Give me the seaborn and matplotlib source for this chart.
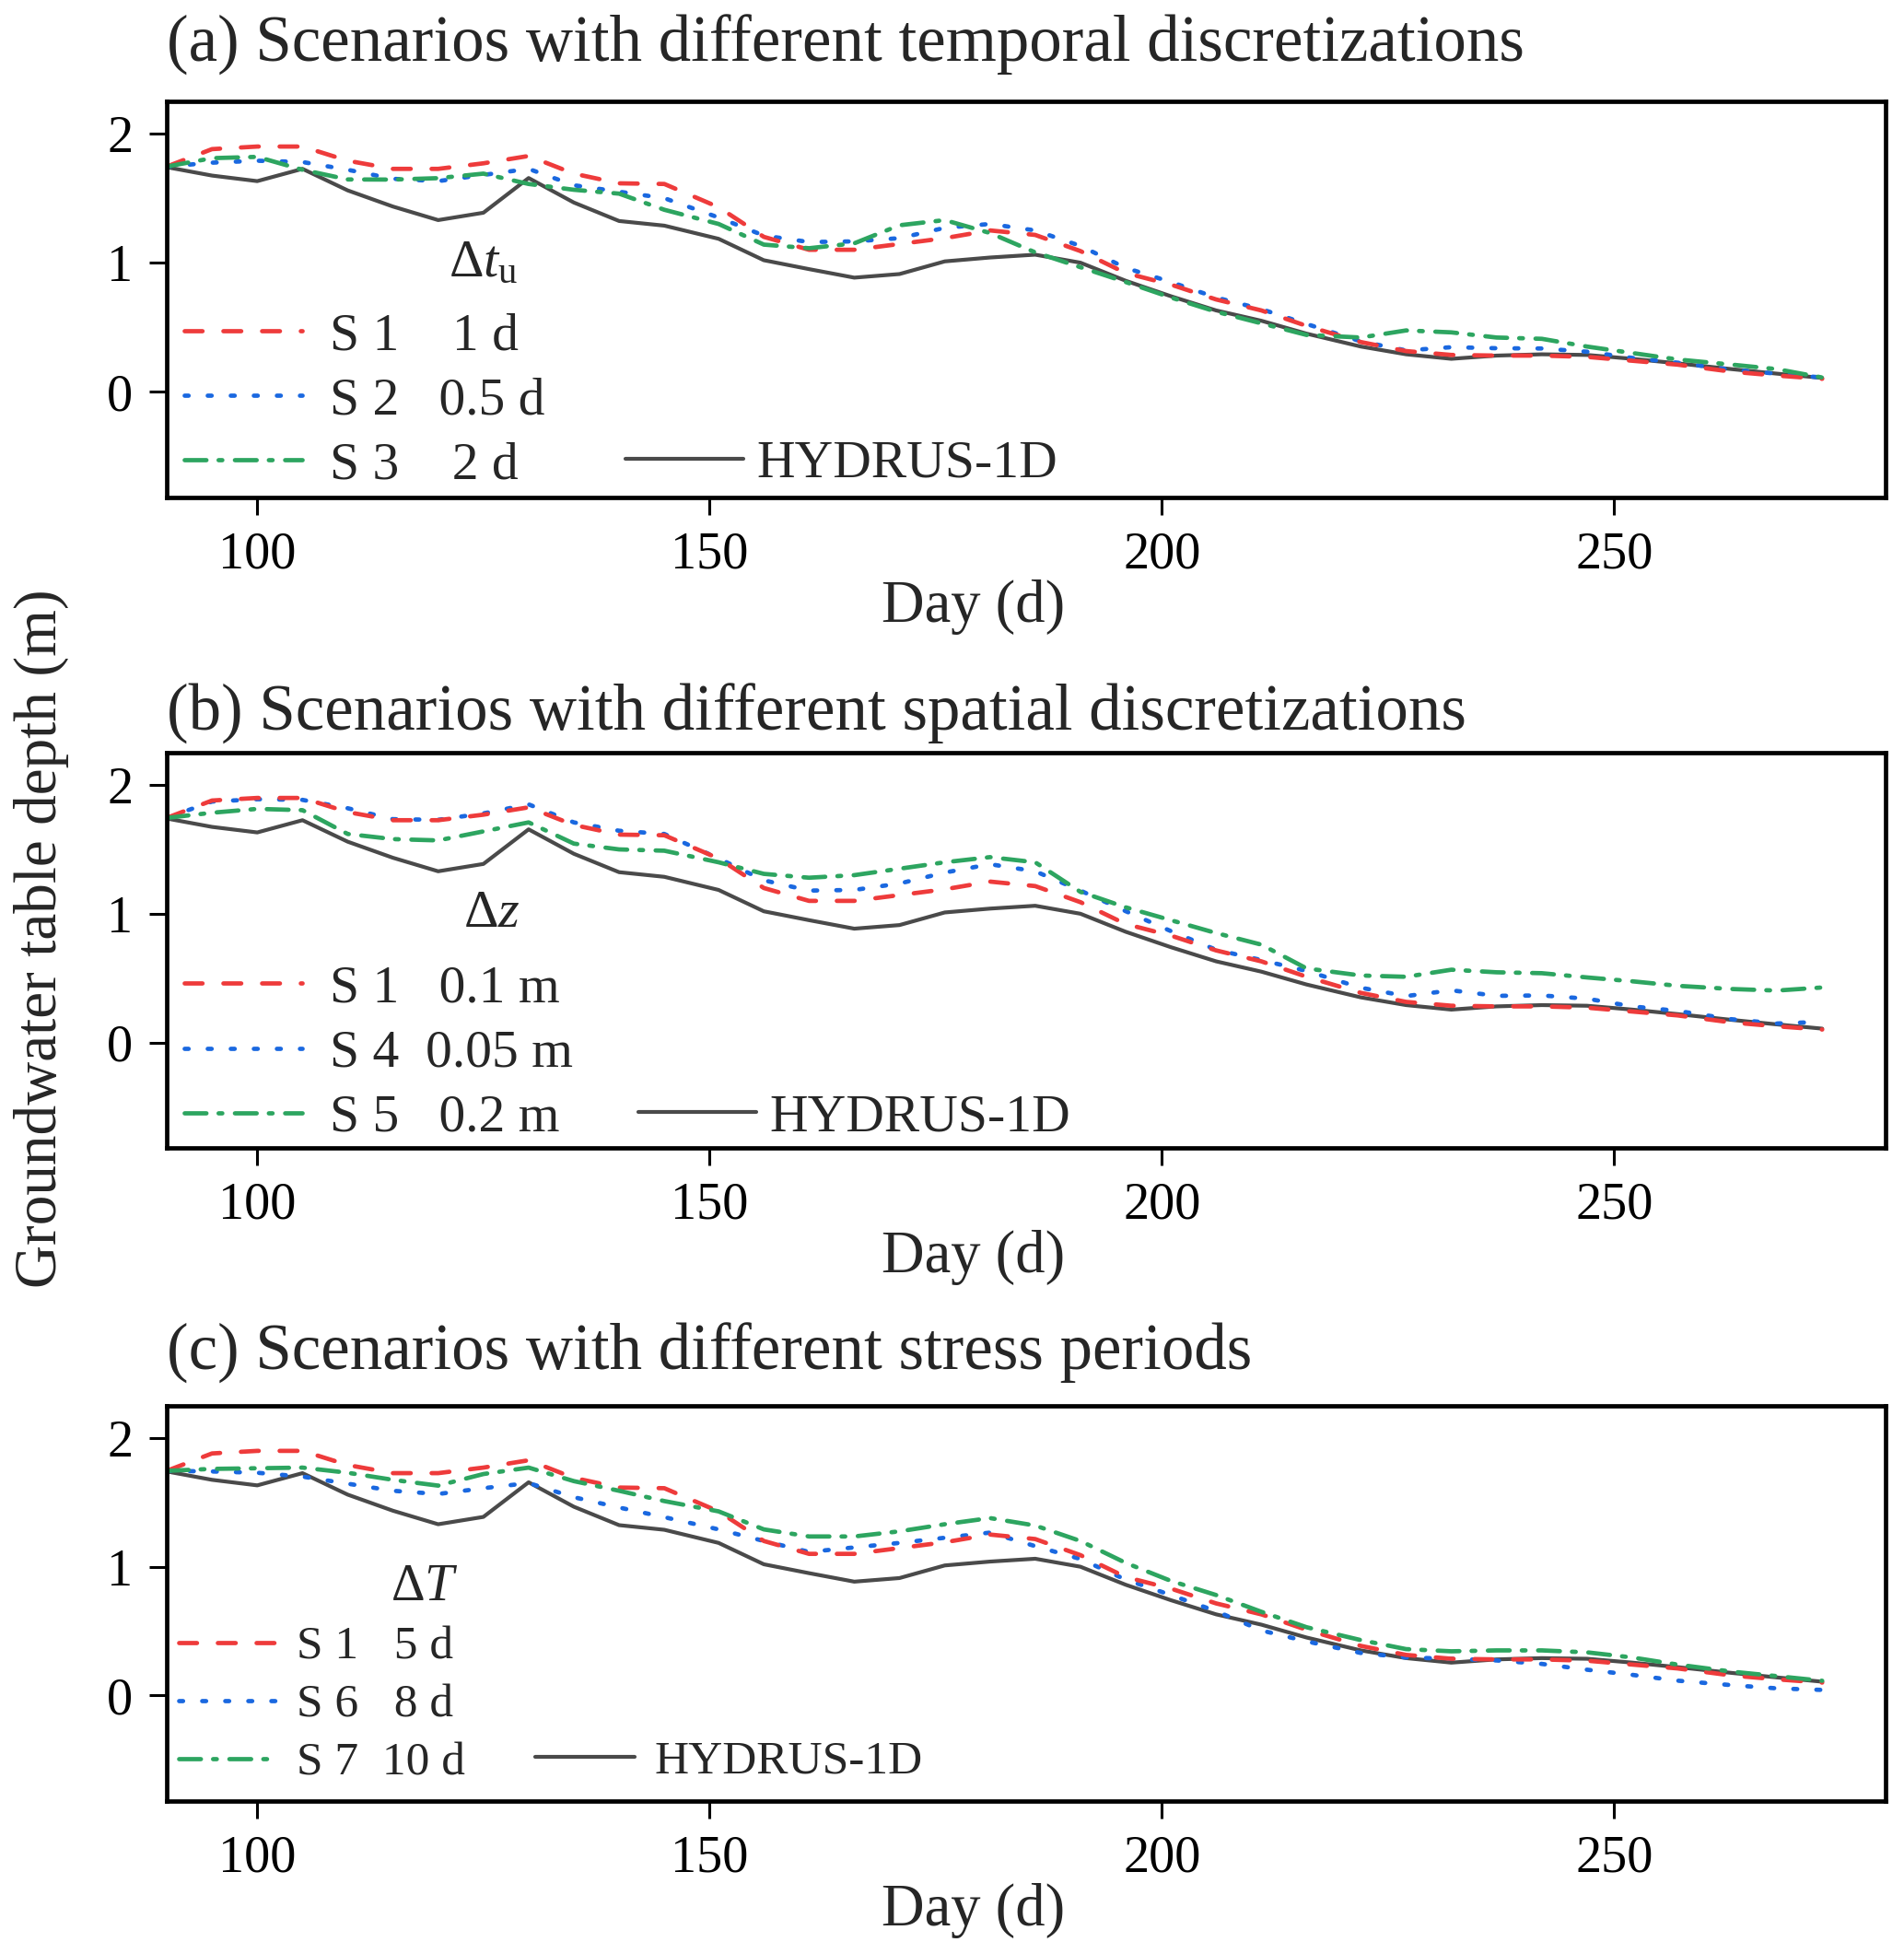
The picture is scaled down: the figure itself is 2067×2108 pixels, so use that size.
import matplotlib
matplotlib.use("Agg")
import matplotlib.pyplot as plt
import seaborn as sns

# days of the simulated groundwater table depth
days = [90, 95, 100, 105, 110, 115, 120, 125, 130, 135, 140, 145, 151, 156, 161,
        166, 171, 176, 181, 186, 191, 196, 201, 206, 211, 216, 222, 227, 232, 237,
        242, 247, 252, 257, 263, 268, 273]

hydrus = [1.74, 1.675, 1.632, 1.727, 1.56, 1.435, 1.33, 1.387, 1.656, 1.466, 1.323,
          1.287, 1.185, 1.019, 0.95, 0.884, 0.912, 1.01, 1.04, 1.062, 1.0, 0.86,
          0.74, 0.63, 0.55, 0.45, 0.35, 0.29, 0.255, 0.28, 0.29, 0.285, 0.255, 0.22,
          0.175, 0.14, 0.107]

s1 = [1.745, 1.88, 1.90, 1.90, 1.79, 1.727, 1.727, 1.77, 1.827, 1.69, 1.615, 1.61,
      1.43, 1.20, 1.10, 1.10, 1.145, 1.19, 1.25, 1.215, 1.09, 0.92, 0.83, 0.715,
      0.63, 0.51, 0.385, 0.315, 0.285, 0.28, 0.28, 0.27, 0.24, 0.21, 0.155, 0.125, 0.10]

s2 = [1.745, 1.775, 1.79, 1.78, 1.72, 1.65, 1.632, 1.68, 1.727, 1.60, 1.55, 1.50,
      1.35, 1.21, 1.16, 1.165, 1.19, 1.27, 1.30, 1.25, 1.13, 0.96, 0.85, 0.73, 0.64,
      0.525, 0.39, 0.32, 0.345, 0.337, 0.335, 0.31, 0.262, 0.225, 0.17, 0.14, 0.11]

s3 = [1.745, 1.81, 1.82, 1.72, 1.645, 1.644, 1.655, 1.69, 1.61, 1.565, 1.535, 1.41,
      1.30, 1.14, 1.112, 1.15, 1.29, 1.33, 1.23, 1.08, 0.965, 0.85, 0.73, 0.62, 0.53,
      0.44, 0.42, 0.475, 0.46, 0.42, 0.41, 0.35, 0.30, 0.25, 0.21, 0.175, 0.11]

s4 = [1.745, 1.872, 1.89, 1.885, 1.82, 1.735, 1.73, 1.78, 1.85, 1.71, 1.645, 1.62,
      1.43, 1.26, 1.18, 1.185, 1.235, 1.32, 1.385, 1.33, 1.18, 1.02, 0.865, 0.72,
      0.64, 0.555, 0.425, 0.36, 0.405, 0.362, 0.365, 0.34, 0.28, 0.245, 0.18, 0.147, 0.16]

s5 = [1.745, 1.785, 1.815, 1.805, 1.62, 1.58, 1.57, 1.64, 1.71, 1.545, 1.50, 1.49,
      1.40, 1.31, 1.28, 1.30, 1.35, 1.40, 1.44, 1.40, 1.17, 1.05, 0.95, 0.85, 0.76,
      0.575, 0.52, 0.51, 0.565, 0.545, 0.538, 0.505, 0.475, 0.44, 0.415, 0.403, 0.427]

s6 = [1.745, 1.74, 1.73, 1.70, 1.645, 1.59, 1.565, 1.61, 1.65, 1.54, 1.46, 1.385,
      1.29, 1.20, 1.115, 1.15, 1.185, 1.225, 1.265, 1.16, 1.06, 0.90, 0.78, 0.655,
      0.505, 0.42, 0.33, 0.295, 0.285, 0.272, 0.245, 0.20, 0.16, 0.115, 0.08, 0.055, 0.043]

s7 = [1.745, 1.76, 1.765, 1.77, 1.73, 1.675, 1.63, 1.72, 1.77, 1.665, 1.59, 1.51,
      1.43, 1.29, 1.235, 1.235, 1.275, 1.33, 1.378, 1.32, 1.20, 1.03, 0.89, 0.78,
      0.65, 0.53, 0.43, 0.36, 0.343, 0.35, 0.35, 0.335, 0.295, 0.24, 0.185, 0.15, 0.114]

titles = ["(a) Scenarios with different temporal discretizations",
          "(b) Scenarios with different spatial discretizations",
          "(c) Scenarios with different stress periods"]
delta_labels = [r"Δ$t_\mathrm{u}$", r"Δ$z$", r"Δ$T$"]
labels_a = ["S 1    1 d", "S 2   0.5 d", "S 3    2 d"]
labels_b = ["S 1   0.1 m", "S 4  0.05 m", "S 5   0.2 m"]
labels_c = ["S 1   5 d", "S 6   8 d", "S 7  10 d"]

RED = "#EE3B3B"
BLUE = "#1A68E0"
GREEN = "#2DA560"
BLACK = "#4A4A4A"
DASHED = (4.1, 4.8)
DOTTED = (0.9, 4.4)
DASHDOT = (5.0, 2.8, 0.85, 2.9)

sns.set_style("ticks")
plt.rcParams["font.family"] = ["Liberation Serif", "DejaVu Serif"]
plt.rcParams["mathtext.fontset"] = "custom"
plt.rcParams["mathtext.rm"] = "Liberation Serif"
plt.rcParams["mathtext.it"] = "Liberation Serif:italic"

fig = plt.figure(figsize=(20.67, 21.08), dpi=100)

panels = [
    dict(rect=[0.0876, 0.7438, 0.9027, 0.2040], pad=31, series=[s1, s2, s3],
         labels=labels_a, fs=41.5, hl=2.22, htp=0.51, htp2=0.25,
         leg=(0.0104, 0.244), hyd=(0.2667, 0.085), dpos=(0.184, 0.59), dfs=42),
    dict(rect=[0.0876, 0.4089, 0.9027, 0.2034], pad=17.5, series=[s1, s4, s5],
         labels=labels_b, fs=41.5, hl=2.22, htp=0.51, htp2=0.25,
         leg=(0.0104, 0.239), hyd=(0.2744, 0.077), dpos=(0.189, 0.592), dfs=42),
    dict(rect=[0.0876, 0.0726, 0.9027, 0.2035], pad=28, series=[s1, s6, s7],
         labels=labels_c, fs=37, hl=2.1, htp=0.40, htp2=0.42,
         leg=(0.0069, 0.242), hyd=(0.2146, 0.099), dpos=(0.150, 0.54), dfs=41),
]

for i, p in enumerate(panels):
    ax = fig.add_axes(p["rect"])
    sns.lineplot(x=days, y=hydrus, ax=ax, color=BLACK, linewidth=3.0)
    hyd_line = ax.lines[-1]

    handles = []
    styles = [(RED, DASHED), (BLUE, DOTTED), (GREEN, DASHDOT)]
    # draw blue first, then red, then green on top
    for k in [1, 0, 2]:
        color, dash = styles[k]
        sns.lineplot(x=days, y=p["series"][k], ax=ax, color=color, linewidth=3.4)
        ln = ax.lines[-1]
        ln.set_dashes(dash)
        ln.set_dash_capstyle("round")
        handles.append((k, ln))
    handles = [h for _, h in sorted(handles, key=lambda t: t[0])]

    ax.set_xlim(90, 280)
    ax.set_ylim(-0.82, 2.25)
    ax.set_xticks([100, 150, 200, 250])
    ax.set_yticks([0, 1, 2])
    ax.tick_params(direction="out", length=14, width=2.2, pad=12.5,
                   labelsize=40.5, colors="black")
    for sp in ax.spines.values():
        sp.set_linewidth(3.4)
        sp.set_color("black")
    ax.set_ylabel("")
    ax.set_xlabel("Day (d)", fontsize=46.5, x=0.469, labelpad=0)
    ax.set_title(titles[i], loc="left", fontsize=51, pad=p["pad"])

    leg1 = ax.legend(handles, p["labels"], loc="center left",
                     bbox_to_anchor=p["leg"], frameon=False, fontsize=p["fs"],
                     handlelength=p["hl"], handletextpad=p["htp"],
                     labelspacing=0.31, borderpad=0, borderaxespad=0)
    ax.add_artist(leg1)
    ax.legend([hyd_line], ["HYDRUS-1D"], loc="center left",
              bbox_to_anchor=p["hyd"], frameon=False, fontsize=p["fs"],
              handlelength=p["hl"], handletextpad=p["htp2"],
              borderpad=0, borderaxespad=0)

    ax.text(p["dpos"][0], p["dpos"][1], delta_labels[i], transform=ax.transAxes,
            fontsize=p["dfs"], ha="center", va="center")

fig.text(0.0218, 0.5166, "Groundwater table depth (m)", rotation=90,
         ha="center", va="center", fontsize=47)

fig.savefig("out.png", dpi=100)
